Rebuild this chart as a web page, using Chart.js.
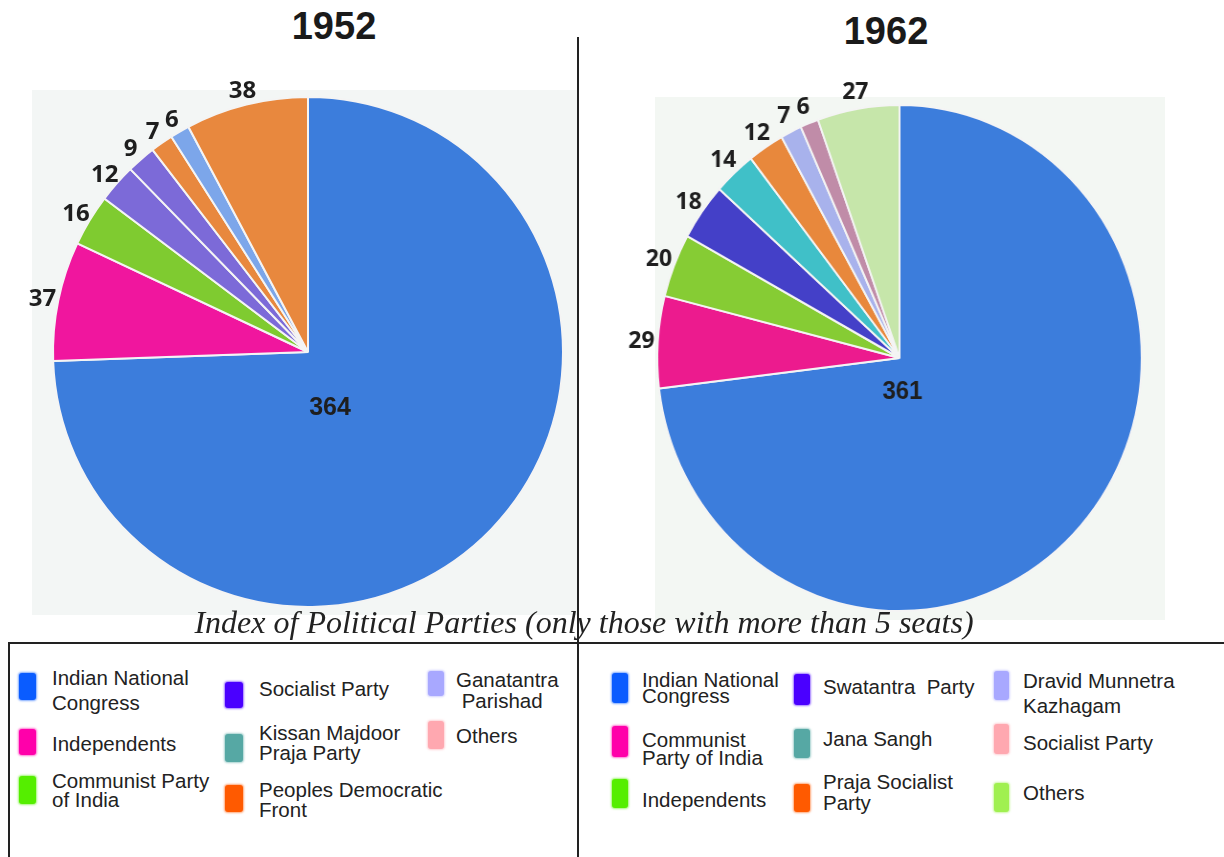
<!DOCTYPE html>
<html>
<head>
<meta charset="utf-8">
<script src="https://cdn.jsdelivr.net/npm/chart.js@4"></script>
<style>
  html, body { margin: 0; padding: 0; background: #fff; }
  #stage { position: relative; width: 1224px; height: 857px; overflow: hidden; background: #fff;
           font-family: Arial, "Liberation Sans", sans-serif; }
  .abs { position: absolute; }
  .title { font-weight: bold; font-size: 38px; color: #1a1a1a; transform: translate(-50%, -50%); white-space: nowrap; }
  .caption { font-family: "Liberation Serif", "Times New Roman", serif; font-style: italic; font-size: 32px;
             color: #222; transform: translate(-50%, -50%); white-space: nowrap; }
  .bg { background: #f3f6f5; }
  .line { background: #222; z-index: 5; }
  .sw { position: absolute; border-radius: 3px; }
  .txt { position: absolute; font-size: 20.5px; color: #222; white-space: nowrap; }
</style>
</head>
<body>
<div id="stage">
  <div class="abs bg" style="left:32px;top:90px;width:546px;height:525px;"></div>
  <div class="abs bg" style="left:655px;top:97px;width:510px;height:523px;background:#f3f7f3;"></div>
  <canvas id="c1952" class="abs" width="592" height="592" style="left:12px;top:56px;"></canvas>
  <canvas id="c1962" class="abs" width="588" height="588" style="left:618px;top:64px;width:563px;height:588px;"></canvas>
  <div id="t1952" class="abs title" style="left:334px;top:26px;"></div>
  <div id="t1962" class="abs title" style="left:886px;top:31px;"></div>
  <div id="cap" class="abs caption" style="left:584px;top:622px;"></div>
  <div class="abs line" style="left:577px;top:37px;width:2px;height:820px;"></div>
  <div class="abs line" style="left:8px;top:642px;width:1216px;height:2px;"></div>
  <div class="abs line" style="left:8px;top:642px;width:2px;height:215px;"></div>
  <div id="leg1"></div>
  <div id="leg2"></div>
</div>
<script>
// ---------------- DATA ----------------
const years = ['1952', '1962'];
const captionText = 'Index of Political Parties (only those with more than 5 seats)';

const parties1952 = ['Indian National\nCongress', 'Independents', 'Communist Party\nof India', 'Socialist Party',
                     'Kissan Majdoor\nPraja Party', 'Peoples Democratic\nFront', 'Ganatantra\n Parishad', 'Others'];
const seats1952 = [364, 37, 16, 12, 9, 7, 6, 38];
const sliceColors1952 = ['#3c7ddc', '#f0169e', '#7fcb30', '#7c6ad8', '#7c6ad8', '#e8883e', '#7ca6ea', '#e8883e'];
const legendColors1952 = ['#0a5cff', '#ff00aa', '#55ee00', '#4a00ff', '#56a8a4', '#ff5a00', '#a8a8ff', '#ffa8b0'];

const parties1962 = ['Indian National\nCongress', 'Communist\nParty of India', 'Independents', 'Swatantra  Party',
                     'Jana Sangh', 'Praja Socialist\nParty', 'Dravid Munnetra\nKazhagam', 'Socialist Party', 'Others'];
const seats1962 = [361, 29, 20, 18, 14, 12, 7, 6, 27];
const sliceColors1962 = ['#3c7ddc', '#ec1b8e', '#86cc34', '#4440c8', '#40c0c8', '#e8883c', '#a8b2ec', '#c08ca8', '#c6e6aa'];
const legendColors1962 = ['#0a5cff', '#ff00aa', '#55ee00', '#4a00ff', '#56a8a4', '#ff5a00', '#a8a8ff', '#ffa8b0', '#a0f050'];

// ---------------- TEXT ----------------
document.getElementById('t1952').textContent = years[0];
document.getElementById('t1962').textContent = years[1];
document.getElementById('cap').textContent = captionText;

// ---------------- LABEL PLUGIN ----------------
const labelPlugin = {
  id: 'sliceLabels',
  afterDatasetsDraw(chart, args, opts) {
    const ctx = chart.ctx;
    const meta = chart.getDatasetMeta(0);
    const data = chart.data.datasets[0].data;
    ctx.save();
    ctx.fillStyle = '#1e1e1e';
    ctx.textAlign = 'center';
    ctx.textBaseline = 'middle';
    meta.data.forEach((arc, i) => {
      const p = arc.getProps(['x', 'y', 'startAngle', 'endAngle', 'outerRadius'], true);
      if (i === 0) {
        ctx.font = 'bold 25px Arial, "Liberation Sans", sans-serif';
        ctx.fillText(String(data[i]), p.x + opts.inner[0], p.y + opts.inner[1]);
      } else {
        const mid = (p.startAngle + p.endAngle) / 2;
        const r = p.outerRadius + opts.offset;
        ctx.font = 'bold 24px "Open Sans", sans-serif';
        ctx.fillText(String(data[i]), p.x + Math.cos(mid) * r, p.y + Math.sin(mid) * r + opts.dy);
      }
    });
    ctx.restore();
  }
};

function makePie(id, labels, values, colors, pad, offset, dy, inner) {
  return new Chart(document.getElementById(id), {
    type: 'pie',
    data: {
      labels: labels.map(s => s.replace(/\n/g, ' ')),
      datasets: [{ data: values, backgroundColor: colors, borderColor: '#f4f4f4', borderWidth: 2 }]
    },
    options: {
      responsive: false,
      animation: false,
      layout: { padding: pad },
      plugins: {
        legend: { display: false },
        tooltip: { enabled: false },
        sliceLabels: { offset: offset, dy: dy, inner: inner }
      }
    },
    plugins: [labelPlugin]
  });
}

makePie('c1952', parties1952, seats1952, sliceColors1952, 40, 16, 2, [22, 56]);
makePie('c1962', parties1962, seats1962, sliceColors1962, 40, 17, 0, [3, 34]);

// ---------------- LEGENDS (HTML) ----------------
// layout per item: [swatchX, swatchY, swatchW, swatchH, textX, firstBaseline, lineSpacing]
const FS = 20.5, ASC = 0.905 * FS, CONTENT = 1.117 * FS;
function buildLegend(containerId, names, colors, layout) {
  const box = document.getElementById(containerId);
  names.forEach((name, i) => {
    const [sx, sy, sw, sh, tx, b1, ls] = layout[i];
    const s = document.createElement('div');
    s.className = 'sw';
    s.style.left = sx + 'px'; s.style.top = sy + 'px';
    s.style.width = sw + 'px'; s.style.height = sh + 'px';
    s.style.background = colors[i];
    s.style.boxShadow = '0 0 2px 1px ' + colors[i] + '88';
    box.appendChild(s);
    const t = document.createElement('div');
    t.className = 'txt';
    t.style.left = tx + 'px';
    t.style.lineHeight = ls + 'px';
    t.style.top = (b1 - ((ls - CONTENT) / 2 + ASC)) + 'px';
    t.style.whiteSpace = 'pre';
    t.textContent = name;
    box.appendChild(t);
  });
}

buildLegend('leg1', parties1952, legendColors1952, [
  [19, 673, 17, 27, 52, 685, 25],
  [19, 729, 17, 26, 52, 751, 22],
  [19, 776, 17, 28, 52, 788, 19],
  [225, 682, 18, 26, 259, 696, 22],
  [225, 734, 18, 28, 259, 740, 20],
  [225, 785, 18, 27, 259, 797, 20],
  [428, 671, 16, 25, 456, 687, 21],
  [428, 721, 16, 28, 456, 743, 22]
]);
buildLegend('leg2', parties1962, legendColors1962, [
  [612, 673, 16, 30, 642, 687, 16],
  [612, 726, 16, 31, 642, 747, 18],
  [612, 779, 16, 29, 642, 807, 20],
  [794, 674, 16, 31, 823, 694, 20],
  [794, 729, 16, 29, 823, 746, 20],
  [794, 784, 16, 28, 823, 789, 21],
  [994, 671, 15, 29, 1023, 688, 25],
  [994, 724, 15, 30, 1023, 750, 20],
  [994, 783, 15, 29, 1023, 800, 20]
]);
</script>
</body>
</html>
